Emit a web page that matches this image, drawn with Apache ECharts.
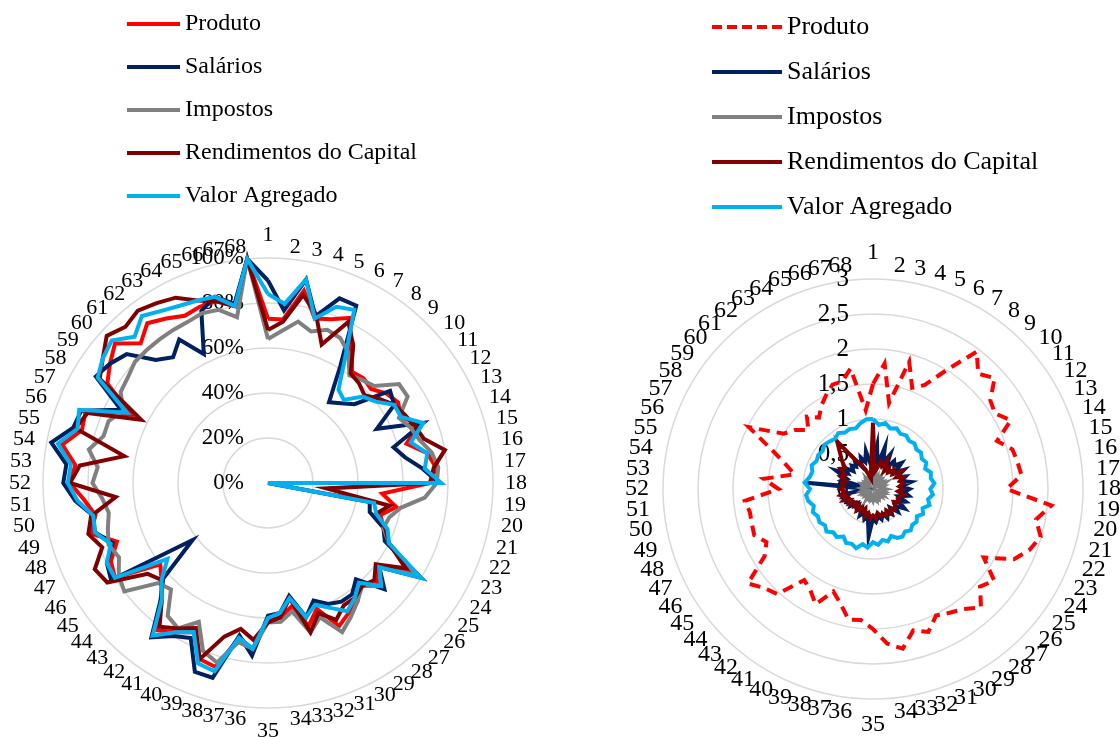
<!DOCTYPE html>
<html>
<head>
<meta charset="utf-8">
<script src="https://cdn.jsdelivr.net/npm/echarts@6/dist/echarts.min.js"></script>
<style>
  html, body { margin: 0; padding: 0; background: #fff; }
  #chart { width: 1120px; height: 737px; }
</style>
</head>
<body>
<div id="chart"></div>
<script>
// eixos 1..68
var setores = [];
for (var s = 1; s <= 68; s++) setores.push(String(s));

var nomes = ['Produto', 'Salários', 'Impostos', 'Rendimentos do Capital', 'Valor Agregado'];
var cores = ['#FF0000', '#002060', '#808080', '#800000', '#00B0F0'];

// grafico da esquerda (%)
var esqProduto  = [73,73,87,76,78,82,70,62,63,62,66,68,66,72,64,72,75,72,51,58,52,55,60,76,62,66,60,66,68,71,60,66,56,60,61,74,70,85,84,74,78,82,70,64,60,80,78,72,82,78,82,88,86,93,86,87,68,84,88,92,84,89,86,83,84,84,80,100];
var esqSalarios = [90,77,92,77,88,88,61,45,48,52,68,66,54,74,58,62,69,76,0,46,47,55,58,80,62,70,58,62,62,60,56,62,51,58,59,77,69,90,90,77,80,86,71,63,42,82,80,74,80,79,86,91,90,98,90,89,73,90,88,85,74,70,75,64,82,86,81,100];
var esqImpostos = [64,68,73,70,73,72,68,60,62,64,73,73,65,68,70,74,76,75,70,60,56,55,60,78,62,68,62,66,70,74,64,69,58,62,62,74,72,83,80,69,76,74,64,66,80,78,74,76,74,72,74,78,76,81,76,76,72,77,78,80,80,80,80,80,81,80,75,100];
var esqCapital  = [68,72,85,78,66,80,72,61,60,58,62,66,68,70,72,80,74,72,26,55,50,56,60,72,60,64,62,64,64,68,62,69,52,60,62,70,66,71,84,72,76,80,70,64,67,84,86,79,83,80,68,88,84,65,89,86,63,88,92,97,94,96,94,92,87,84,80,100];
var esqValor    = [84,80,92,76,84,86,65,52,50,57,60,66,66,74,66,72,70,77,0,48,50,57,60,80,62,68,60,64,67,62,58,62,52,58,60,74,70,87,86,74,78,85,70,64,56,80,80,75,80,79,85,89,88,95,88,90,70,89,92,94,88,93,90,88,87,86,80,100];

// grafico da direita
var dirProduto  = [1.5,1.8,1.25,1.89,1.55,1.66,2.0,2.46,2.23,2.35,2.1,2.05,2.2,1.9,2.07,2.1,2.13,1.91,2.56,2.37,2.49,2.4,2.25,1.86,2.17,2.07,2.29,2.15,2.08,2.02,2.19,2.1,2.32,2.22,2.0,1.88,1.9,1.7,1.57,1.84,1.7,1.63,2.03,2.1,2.24,1.82,1.7,1.82,1.8,1.79,1.84,1.35,1.57,1.14,1.3,1.55,1.98,1.5,1.4,1.25,1.4,1.28,1.4,1.5,1.6,1.6,1.75,1.13];
var dirSalarios = [0.40,0.63,0.35,0.62,0.40,0.55,0.35,0.50,0.45,0.55,0.40,0.52,0.38,0.50,0.42,0.55,0.40,0.52,0.45,0.52,0.38,0.50,0.42,0.53,0.40,0.48,0.36,0.45,0.40,0.46,0.38,0.45,0.40,0.47,0.42,0.68,0.40,0.45,0.36,0.42,0.30,0.38,0.36,0.30,0.40,0.35,0.42,0.38,0.45,0.40,0.15,0.10,0.95,0.10,0.45,0.40,0.59,0.42,0.50,0.38,0.45,0.40,0.50,0.36,0.48,0.40,0.55,0.35];
var dirImpostos = [0.15,0.12,0.18,0.10,0.16,0.12,0.20,0.14,0.17,0.12,0.15,0.10,0.18,0.13,0.16,0.12,0.14,0.18,0.12,0.15,0.10,0.16,0.13,0.17,0.12,0.15,0.11,0.14,0.16,0.12,0.15,0.10,0.14,0.12,0.16,0.13,0.15,0.11,0.14,0.12,0.16,0.10,0.13,0.15,0.12,0.14,0.10,0.15,0.12,0.16,0.13,0.10,0.15,0.12,0.14,0.11,0.16,0.13,0.15,0.12,0.14,0.10,0.16,0.12,0.15,0.13,0.17,0.12];
var dirCapital  = [0.95,0.25,0.30,0.40,0.35,0.45,0.30,0.38,0.32,0.40,0.35,0.48,0.38,0.47,0.40,0.44,0.38,0.42,0.36,0.45,0.40,0.38,0.42,0.35,0.40,0.42,0.38,0.44,0.36,0.42,0.38,0.40,0.35,0.42,0.38,0.42,0.35,0.40,0.30,0.36,0.32,0.38,0.30,0.36,0.32,0.40,0.35,0.45,0.38,0.47,0.40,0.47,0.42,0.45,0.40,0.50,0.45,0.55,0.50,0.60,0.70,0.85,0.50,0.40,0.30,0.20,0.15,0.30];
var dirValor    = [1.0,0.92,0.96,0.90,0.93,0.88,0.90,0.86,0.88,0.84,0.86,0.82,0.85,0.80,0.86,0.84,0.88,0.82,0.86,0.80,0.84,0.76,0.80,0.74,0.78,0.76,0.80,0.76,0.80,0.78,0.72,0.78,0.74,0.80,0.76,0.84,0.80,0.88,0.84,0.86,0.80,0.86,0.84,0.90,0.86,0.90,0.88,0.92,0.88,0.94,0.96,0.90,0.98,0.92,0.90,0.94,0.90,0.92,0.90,0.94,0.92,0.90,0.94,0.90,0.92,0.90,0.96,1.0];

var fonte = 'Liberation Serif, Times New Roman, serif';

// o radar do echarts gira no sentido anti-horario, entao inverte a ordem (1, 68, 67, ... 2)
var ordem = [0];
for (var k = 67; k >= 1; k--) ordem.push(k);
function reordena(arr) { return ordem.map(function (i) { return arr[i]; }); }

function indicadores(max) {
  return ordem.map(function (i, j) {
    var ind = { name: setores[i], min: 0, max: max };
    if (j === 0) ind.axisLabel = { show: true };
    return ind;
  });
}

function item(nome, valores, cor, tracejado) {
  return {
    name: nome,
    value: reordena(valores),
    symbol: 'none',
    lineStyle: { color: cor, width: 4, type: tracejado ? [11, 7] : 'solid', cap: 'butt', join: 'miter' },
    itemStyle: { color: cor }
  };
}

var chart = echarts.init(document.getElementById('chart'));
chart.setOption({
  backgroundColor: '#fff',
  animation: false,
  legend: [{
    orient: 'vertical',
    left: 127,
    top: 12,
    padding: 0,
    itemWidth: 53,
    itemHeight: 4,
    itemGap: 19,
    selectedMode: false,
    textStyle: { fontFamily: fonte, fontSize: 24, color: '#000', lineHeight: 24 },
    data: nomes.map(function (n, k) {
      return { name: n, icon: 'rect', itemStyle: { color: cores[k], borderWidth: 0 } };
    })
  }, {
    orient: 'vertical',
    left: 712,
    top: 14,
    padding: 0,
    itemWidth: 70,
    itemHeight: 4,
    itemGap: 19,
    selectedMode: false,
    textStyle: { fontFamily: fonte, fontSize: 26, color: '#000', lineHeight: 26 },
    data: nomes.map(function (n, k) {
      return {
        name: n,
        icon: k === 0 ? 'path://M0,0H10V4H0Z M15,0H25V4H15Z M30,0H40V4H30Z M45,0H55V4H45Z M60,0H70V4H60Z' : 'rect',
        itemStyle: { color: cores[k], borderWidth: 0 }
      };
    })
  }],
  radar: [{
    center: [268, 483],
    radius: 225,
    startAngle: 90,
    shape: 'circle',
    splitNumber: 5,
    nameGap: 12,
    indicator: indicadores(100),
    axisName: { color: '#000', fontFamily: fonte, fontSize: 22 },
    axisLine: { show: false },
    axisTick: { show: false },
    splitArea: { show: false },
    splitLine: { lineStyle: { color: '#D9D9D9', width: 1.5 } },
    axisLabel: {
      show: false, color: '#000', fontFamily: fonte, fontSize: 23, margin: 24,
      formatter: function (v) { return v + '%'; }
    }
  }, {
    center: [873, 489],
    radius: 210,
    startAngle: 90,
    shape: 'circle',
    splitNumber: 6,
    nameGap: 14,
    indicator: indicadores(3),
    axisName: { color: '#000', fontFamily: fonte, fontSize: 24 },
    axisLine: { show: false },
    axisTick: { show: false },
    splitArea: { show: false },
    splitLine: { lineStyle: { color: '#D9D9D9', width: 1.5 } },
    axisLabel: {
      show: false, color: '#000', fontFamily: fonte, fontSize: 25, margin: 24,
      formatter: function (v) { return String(v).replace('.', ','); }
    }
  }],
  series: [{
    type: 'radar',
    radarIndex: 0,
    data: [
      item(nomes[0], esqProduto, cores[0], false),
      item(nomes[1], esqSalarios, cores[1], false),
      item(nomes[2], esqImpostos, cores[2], false),
      item(nomes[3], esqCapital, cores[3], false),
      item(nomes[4], esqValor, cores[4], false)
    ]
  }, {
    type: 'radar',
    radarIndex: 1,
    data: [
      item(nomes[0], dirProduto, cores[0], true),
      item(nomes[1], dirSalarios, cores[1], false),
      item(nomes[2], dirImpostos, cores[2], false),
      item(nomes[3], dirCapital, cores[3], false),
      item(nomes[4], dirValor, cores[4], false)
    ]
  }]
});
</script>
</body>
</html>
